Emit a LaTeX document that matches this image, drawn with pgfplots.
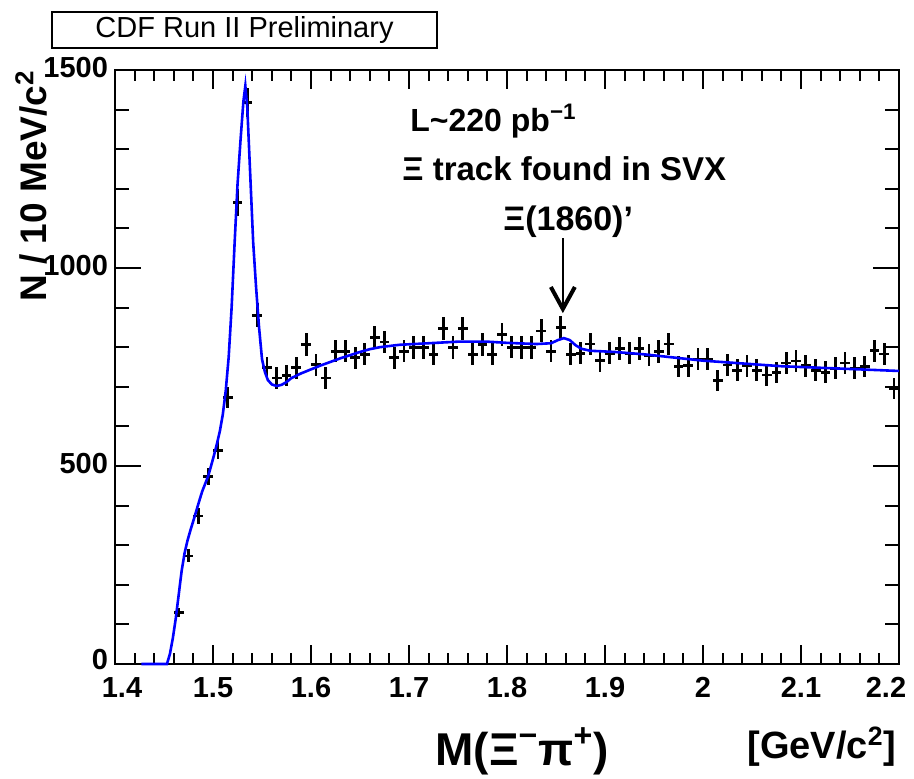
\documentclass[border=0pt]{standalone}
\usepackage{pgfplots}
\pgfplotsset{compat=1.18}
\usepackage{pgfplotstable}
\usepackage{fontspec}
\setmainfont{Liberation Sans}
\usetikzlibrary{arrows.meta}

% Xi- pi+ invariant mass, 10 MeV bins: centre, entries, statistical error
\pgfplotstableread{
x y ey
1.465 131 11.4
1.475 273 16.5
1.485 374 19.3
1.495 473 21.7
1.505 540 23.2
1.515 673 25.9
1.525 1166 34.1
1.535 1418 37.7
1.545 881 29.7
1.555 749 27.4
1.565 722 26.9
1.575 728 27.0
1.585 748 27.3
1.595 807 28.4
1.605 756 27.5
1.615 722 26.9
1.625 790 28.1
1.635 790 28.1
1.645 773 27.8
1.655 782 28.0
1.665 824 28.7
1.675 813 28.5
1.685 773 27.8
1.695 790 28.1
1.705 799 28.3
1.715 799 28.3
1.725 782 28.0
1.735 847 29.1
1.745 799 28.3
1.755 847 29.1
1.765 782 28.0
1.775 807 28.4
1.785 782 28.0
1.795 832 28.8
1.805 800 28.3
1.815 799 28.3
1.825 799 28.3
1.835 841 29.0
1.845 790 28.1
1.855 849 29.1
1.865 782 28.0
1.875 785 28.0
1.885 808 28.4
1.895 766 27.7
1.905 785 28.0
1.915 797 28.2
1.925 785 28.0
1.935 797 28.2
1.945 780 27.9
1.955 789 28.1
1.965 808 28.4
1.975 751 27.4
1.985 753 27.4
1.995 770 27.7
2.005 770 27.7
2.015 715 26.7
2.025 755 27.5
2.035 742 27.2
2.045 753 27.4
2.055 742 27.2
2.065 730 27.0
2.075 736 27.1
2.085 760 27.6
2.095 765 27.7
2.105 753 27.4
2.115 742 27.2
2.125 737 27.1
2.135 747 27.3
2.145 760 27.6
2.155 747 27.3
2.165 751 27.4
2.175 791 28.1
2.185 783 28.0
2.195 696 26.4
}\xipidata

% fitted signal + background function
\pgfplotstableread{
x y
1.427 0
1.453 0
1.456 25
1.459 65
1.462 115
1.465 175
1.468 235
1.471 280
1.474 312
1.477 338
1.480 362
1.483 387
1.486 412
1.489 436
1.492 455
1.495 474
1.498 500
1.501 527
1.504 556
1.507 588
1.510 630
1.513 690
1.516 775
1.519 900
1.522 1060
1.525 1210
1.528 1320
1.531 1420
1.533 1460
1.535 1405
1.538 1235
1.541 1065
1.544 950
1.547 850
1.550 770
1.553 737
1.556 717
1.560 706
1.565 702
1.570 705
1.575 712
1.580 722
1.590 734
1.600 744
1.610 754
1.620 763
1.630 772
1.640 780
1.650 788
1.660 795
1.670 800
1.690 806
1.720 810
1.750 814
1.780 814
1.800 811
1.830 808
1.845 810
1.852 818
1.858 823
1.864 818
1.870 805
1.876 796
1.885 791
1.910 788
1.940 782
1.970 774
2.000 766
2.040 759
2.080 752
2.120 748
2.160 744
2.200 740
}\fitdata

\begin{document}
\begin{tikzpicture}
\begin{axis}[
  scale only axis, width=392pt, height=297pt,
  at={(0,0)}, anchor=south west,
  xmin=1.4, xmax=2.2, ymin=0, ymax=1500,
  xtick={1.4,1.5,1.6,1.7,1.8,1.9,2.0,2.1,2.2},
  xticklabels={1.4\kern-7pt,1.5,1.6,1.7,1.8,1.9,2,2.1,\kern-13pt2.2},
  ytick={0,500,1000,1500},
  yticklabels={\raisebox{3pt}{0},500,1000,1500},
  minor x tick num=4, minor y tick num=4,
  axis line style={line width=1.2pt},
  tick style={black, line width=1pt},
  xtick style={/pgfplots/major tick length=9.5pt, /pgfplots/minor tick length=5.5pt},
  ytick style={/pgfplots/major tick length=13pt, /pgfplots/minor tick length=7pt},
  tick label style={font=\bfseries\fontsize{14.5}{16}\selectfont},
  xticklabel style={yshift=-3pt},
  yticklabel style={yshift=1pt},
  clip=false,
]
\addplot[black, only marks, mark=text, text mark={},
  error bars/.cd, x dir=both, x fixed=0.005, y dir=both, y explicit,
  error mark=none, error bar style={line width=1.4pt, black, solid}]
  table[x=x, y=y, y error=ey] {\xipidata};
\addplot[blue, line width=1.3pt, mark=none] table[x=x, y=y] {\fitdata};
\draw[line width=0.7pt, -{Straight Barb[length=11pt, width=12pt, line width=2pt]}]
  (axis cs:1.857,1075) -- (axis cs:1.857,886);
\end{axis}

\node[draw, line width=1.2pt, minimum width=192.5pt, minimum height=18pt, inner sep=0pt,
  font=\fontsize{14.5}{15}\selectfont] at (64.75pt,317pt) {CDF Run II Preliminary};
\node[rotate=90, anchor=north east, inner sep=0pt, font=\bfseries\fontsize{18.5}{20}\selectfont]
  at (-50pt,297pt) {N / 10 MeV/c\textsuperscript{2}};
\node[anchor=base west, inner sep=0pt, font=\bfseries\fontsize{23}{25}\selectfont]
  at (160pt,-50.5pt) {M(Ξ\textsuperscript{−}π\textsuperscript{+})};
\node[anchor=base west, inner sep=0pt, font=\bfseries\fontsize{19}{20}\selectfont]
  at (316pt,-47pt) {[GeV/c\textsuperscript{2}]};
\node[anchor=base west, inner sep=0pt, font=\bfseries\fontsize{16}{18}\selectfont]
  at (147.5pt,266pt) {L\textasciitilde220 pb\textsuperscript{−1}};
\node[anchor=base west, inner sep=0pt, font=\bfseries\fontsize{16.5}{18}\selectfont]
  at (143.5pt,242pt) {Ξ track found in SVX};
\node[anchor=base west, inner sep=0pt, font=\bfseries\fontsize{17}{18}\selectfont]
  at (194pt,217pt) {Ξ(1860)'};

\pgfresetboundingbox
\path[use as bounding box] (-57.5pt,-57pt) rectangle (399.5pt,332pt);
\end{tikzpicture}
\end{document}
